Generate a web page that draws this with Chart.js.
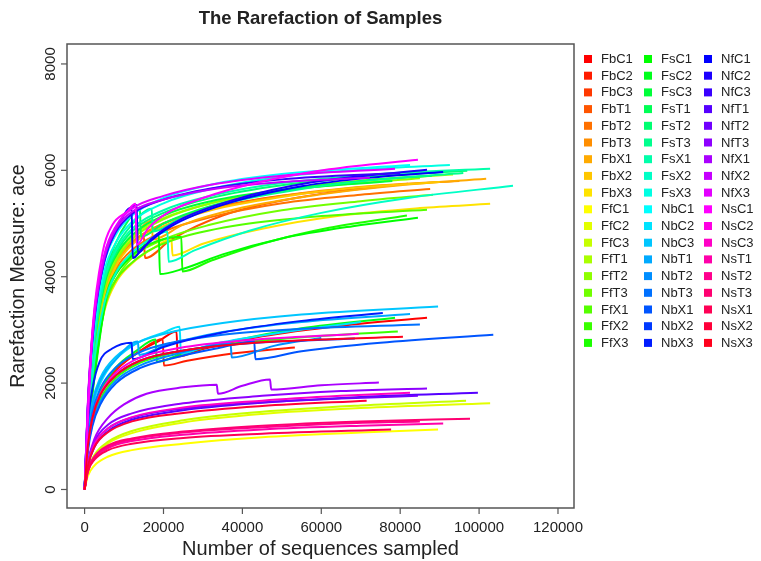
<!DOCTYPE html>
<html>
<head>
<meta charset="utf-8">
<script src="https://cdn.jsdelivr.net/npm/chart.js@4"></script>
<style>html,body{margin:0;background:#fff}</style>
</head>
<body>
<canvas id="c" width="761" height="561"></canvas>
<script>
/* rarefaction curves (ace), one [x, y] list per sample */
const sampleNames = [
  'FbC1','FbC2','FbC3','FbT1','FbT2','FbT3','FbX1','FbX2','FbX3',
  'FfC1','FfC2','FfC3','FfT1','FfT2','FfT3','FfX1','FfX2','FfX3',
  'FsC1','FsC2','FsC3','FsT1','FsT2','FsT3','FsX1','FsX2','FsX3',
  'NbC1','NbC2','NbC3','NbT1','NbT2','NbT3','NbX1','NbX2','NbX3',
  'NfC1','NfC2','NfC3','NfT1','NfT2','NfT3','NfX1','NfX2','NfX3',
  'NsC1','NsC2','NsC3','NsT1','NsT2','NsT3','NsX1','NsX2','NsX3'
];

const curves = [
  /* FbC1 */ [[0,0],[800,850],[2000,1400],[4000,1850],[8000,2250],[14000,2600],[19000,2800],[23300,2970],[23600,2500],[30000,2640],[45000,2880],[65000,3080],[86800,3230]],
  /* FbC2 */ [[0,0],[800,800],[2000,1350],[4000,1800],[8000,2250],[14000,2600],[19800,2830],[20100,2330],[26000,2420],[38000,2560],[53300,2670]],
  /* FbC3 */ [[0,0],[1000,1500],[2500,2700],[5000,3750],[8000,4300],[12000,4650],[20000,5000],[32000,5280],[50000,5520],[75000,5700]],
  /* FbT1 */ [[0,0],[1000,1450],[2500,2650],[5000,3700],[8000,4250],[12000,4620],[15000,4800],[15300,4350],[22000,4700],[35000,5150],[55000,5500],[82000,5750]],
  /* FbT2 */ [[0,0],[1000,1400],[2500,2550],[5000,3600],[8000,4150],[12000,4500],[20000,4850],[32000,5120],[50000,5380],[70000,5540],[87600,5650]],
  /* FbT3 */ [[0,0],[1000,1500],[2500,2700],[5000,3750],[8000,4300],[12000,4650],[20000,5000],[32000,5270],[50000,5520],[72000,5700],[95000,5800]],
  /* FbX1 */ [[0,0],[1000,1450],[2500,2600],[5000,3650],[8000,4250],[12000,4700],[17000,5050],[17300,4700],[25000,4980],[40000,5300],[60000,5550],[80000,5720],[101800,5840]],
  /* FbX2 */ [[0,0],[1000,1400],[2500,2550],[5000,3600],[8000,4200],[12000,4600],[20000,4950],[32000,5250],[50000,5500],[70000,5680],[90000,5780]],
  /* FbX3 */ [[0,0],[1000,1200],[2500,2300],[5000,3350],[8000,3900],[12000,4250],[17000,4520],[22000,4700],[22300,4400],[30000,4620],[45000,4900],[65000,5150],[85000,5290],[102800,5370]],
  /* FfC1 */ [[0,0],[800,250],[2500,450],[6000,620],[12000,740],[25000,860],[45000,980],[70000,1070],[89600,1130]],
  /* FfC2 */ [[0,0],[800,330],[2500,620],[6000,870],[12000,1060],[25000,1260],[45000,1420],[70000,1530],[102800,1620]],
  /* FfC3 */ [[0,0],[800,350],[2500,650],[6000,900],[12000,1100],[25000,1300],[45000,1460],[70000,1580],[96700,1670]],
  /* FfT1 */ [[0,0],[1000,1500],[2500,2700],[5000,3800],[8000,4350],[12000,4750],[20000,5100],[32000,5380],[50000,5640],[72000,5820],[93400,5920]],
  /* FfT2 */ [[0,0],[1000,1450],[2500,2650],[5000,3750],[8000,4300],[12000,4700],[20000,5080],[32000,5380],[50000,5620],[85000,5850]],
  /* FfT3 */ [[0,0],[1000,1250],[2500,2350],[5000,3400],[8000,3950],[12000,4350],[20000,4700],[32000,4980],[50000,5250],[70000,5420],[88300,5540]],
  /* FfX1 */ [[0,0],[1000,1150],[2500,2200],[5500,3550],[8000,3950],[11000,4200],[16000,4480],[25000,4750],[40000,4980],[60000,5140],[86800,5260]],
  /* FfX2 */ [[0,0],[800,800],[2000,1300],[4000,1700],[8000,2100],[14000,2380],[22000,2560],[35000,2720],[55000,2860],[79400,2970]],
  /* FfX3 */ [[0,0],[1000,1100],[2500,2150],[5500,3650],[8000,4100],[11000,4350],[16000,4600],[24500,4750],[24800,4100],[32000,4300],[45000,4620],[62000,4920],[81700,5150]],
  /* FsC1 */ [[0,0],[1000,1100],[2500,2100],[5500,3600],[8000,4050],[11000,4320],[16000,4640],[18800,4800],[19100,4050],[25000,4150],[35000,4420],[50000,4720],[68000,4950],[84500,5110]],
  /* FsC2 */ [[0,0],[800,850],[2000,1400],[4000,1850],[8000,2300],[13000,2600],[18000,2820],[18300,2400],[25000,2560],[38000,2800],[55000,3030],[78700,3230]],
  /* FsC3 */ [[0,0],[1000,1500],[2500,2750],[5000,3850],[8000,4400],[12000,4780],[20000,5150],[32000,5420],[50000,5630],[78000,5800]],
  /* FsT1 */ [[0,0],[1000,1600],[2500,2900],[5000,4000],[8000,4650],[11000,5050],[14000,5300],[14300,4750],[20000,5000],[32000,5330],[50000,5620],[70000,5800],[88000,5900]],
  /* FsT2 */ [[0,0],[1000,1550],[2500,2800],[5000,3900],[8000,4450],[12000,4850],[20000,5200],[32000,5480],[50000,5720],[72000,5880],[97000,5990]],
  /* FsT3 */ [[0,0],[1000,1550],[2500,2800],[5000,3950],[8000,4550],[12000,4980],[17000,5280],[17300,4850],[24000,5080],[36000,5380],[55000,5650],[75000,5830],[96000,5950]],
  /* FsX1 */ [[0,0],[1000,1600],[2500,2850],[5000,3950],[8000,4500],[12000,4900],[20000,5250],[32000,5520],[50000,5760],[75000,5930],[102800,6030]],
  /* FsX2 */ [[0,0],[1000,1300],[2500,2450],[5000,3500],[8000,4080],[12000,4450],[16000,4680],[21000,4850],[21300,4280],[28000,4500],[42000,4870],[60000,5200],[82000,5480],[108600,5710]],
  /* FsX3 */ [[0,0],[1000,1700],[2500,3000],[5000,4100],[8000,4650],[12000,5030],[20000,5380],[32000,5650],[50000,5880],[72000,6020],[92600,6100]],
  /* NbC1 */ [[0,0],[1000,1750],[2500,3100],[5000,4250],[8000,4800],[12000,5150],[20000,5480],[32000,5730],[50000,5930],[82500,6100]],
  /* NbC2 */ [[0,0],[800,950],[2000,1550],[4000,2000],[8000,2450],[14000,2780],[20000,2950],[24100,3060],[24400,2560],[32000,2720],[50000,2950],[70000,3150]],
  /* NbC3 */ [[0,0],[800,1000],[2000,1650],[4000,2100],[8000,2500],[14000,2780],[22000,2960],[35000,3130],[55000,3290],[89600,3440]],
  /* NbT1 */ [[0,0],[800,950],[2000,1600],[4000,2050],[8000,2450],[13500,2780],[13800,2530],[20000,2700],[35000,2960],[55000,3150],[82500,3300]],
  /* NbT2 */ [[0,0],[800,750],[2000,1250],[4000,1650],[8000,2050],[14000,2330],[24000,2560],[37000,2750],[37300,2480],[48000,2700],[60000,2850]],
  /* NbT3 */ [[0,0],[800,850],[2000,1450],[4000,1900],[8000,2300],[14000,2580],[22000,2760],[35000,2910],[55000,3020],[85000,3100]],
  /* NbX1 */ [[0,0],[800,700],[2000,1200],[4000,1600],[8000,2000],[14000,2280],[24000,2500],[34000,2660],[43000,2780],[43300,2450],[55000,2600],[75000,2760],[103600,2910]],
  /* NbX2 */ [[0,0],[800,800],[2000,1350],[4000,1780],[8000,2150],[14000,2420],[24000,2600],[40000,2740],[68500,2840]],
  /* NbX3 */ [[0,0],[800,1200],[2000,1900],[3800,2400],[7000,2650],[11900,2760],[12200,2450],[20000,2680],[35000,2950],[55000,3170],[75600,3320]],
  /* NfC1 */ [[0,0],[1000,1800],[2500,3250],[5000,4300],[8000,4880],[11900,5300],[12200,4350],[15000,4560],[22000,4950],[35000,5350],[55000,5700],[75000,5880],[90900,5970]],
  /* NfC2 */ [[0,0],[1000,1850],[2500,3300],[5000,4350],[8000,4920],[13200,5350],[13500,4450],[17000,4720],[25000,5100],[38000,5450],[58000,5780],[86800,6010]],
  /* NfC3 */ [[0,0],[1000,1800],[2500,3200],[5000,4300],[8000,4850],[12000,5180],[20000,5450],[32000,5660],[50000,5830],[80000,5950]],
  /* NfT1 */ [[0,0],[800,420],[2500,800],[6000,1100],[12000,1310],[25000,1490],[45000,1630],[70000,1740],[99700,1820]],
  /* NfT2 */ [[0,0],[800,450],[2500,850],[6000,1150],[12000,1350],[25000,1520],[45000,1640],[65000,1710],[84500,1760]],
  /* NfT3 */ [[0,0],[800,480],[2500,900],[6000,1220],[12000,1430],[25000,1620],[45000,1760],[65000,1850],[86800,1900]],
  /* NfX1 */ [[0,0],[800,500],[2500,950],[6000,1350],[10000,1600],[15700,1800],[25000,1920],[33500,1970],[33800,1800],[40000,1950],[47000,2070],[47300,1880],[60000,1960],[74600,2010]],
  /* NfX2 */ [[0,0],[1000,1850],[2500,3250],[5000,4350],[8000,4900],[12000,5220],[20000,5450],[32000,5640],[50000,5780],[72300,5860]],
  /* NfX3 */ [[0,0],[1000,1900],[2500,3350],[5000,4420],[8000,4960],[12000,5280],[20000,5520],[32000,5730],[50000,5900],[78700,6030]],
  /* NsC1 */ [[0,0],[1300,2030],[2000,3000],[4600,4470],[7100,4980],[10700,5220],[12900,5370],[13200,4600],[16000,4900],[21000,5200],[30000,5480],[44400,5780],[62000,6020],[84500,6200]],
  /* NsC2 */ [[0,0],[800,800],[2000,1350],[4000,1800],[8000,2200],[14000,2480],[24000,2660],[40000,2800],[69500,2930]],
  /* NsC3 */ [[0,0],[800,450],[2500,850],[6000,1150],[12000,1360],[25000,1540],[45000,1670],[65000,1760],[82500,1820]],
  /* NsT1 */ [[0,0],[800,330],[2500,580],[6000,780],[12000,910],[25000,1030],[45000,1130],[70000,1200],[90900,1240]],
  /* NsT2 */ [[0,0],[800,350],[2500,600],[6000,800],[12000,940],[25000,1070],[45000,1170],[65000,1240],[85000,1280]],
  /* NsT3 */ [[0,0],[800,360],[2500,620],[6000,830],[12000,960],[25000,1090],[45000,1200],[70000,1280],[97700,1330]],
  /* NsX1 */ [[0,0],[800,330],[2500,560],[6000,740],[12000,860],[25000,970],[45000,1050],[77700,1130]],
  /* NsX2 */ [[0,0],[800,430],[2500,800],[6000,1080],[12000,1280],[25000,1440],[45000,1570],[71500,1670]],
  /* NsX3 */ [[0,0],[800,800],[2000,1350],[4000,1780],[8000,2150],[14000,2420],[24000,2600],[40000,2740],[60000,2820],[80700,2870]]
];

const xTicks = [0, 20000, 40000, 60000, 80000, 100000, 120000];
const yTicks = [0, 2000, 4000, 6000, 8000];

const FONT = '"Liberation Sans", Arial, Helvetica, sans-serif';
const colorOf = i => `hsl(${i * 360 / sampleNames.length}, 100%, 50%)`;

/* R-style frame, ticks, titles and 3-column legend */
const rDecor = {
  id: 'rDecor',
  afterDraw(chart) {
    const { ctx, chartArea: a, scales: { x, y } } = chart;
    ctx.save();
    ctx.strokeStyle = '#555';
    ctx.lineWidth = 1.5;
    ctx.strokeRect(a.left, a.top, a.right - a.left, a.bottom - a.top);

    ctx.fillStyle = '#222';
    ctx.font = `15px ${FONT}`;
    ctx.textAlign = 'center';
    ctx.textBaseline = 'middle';
    ctx.lineWidth = 1.2;
    xTicks.forEach(v => {
      const px = x.getPixelForValue(v);
      ctx.beginPath(); ctx.moveTo(px, a.bottom); ctx.lineTo(px, a.bottom + 6); ctx.stroke();
      ctx.fillText(String(v), px, 528);
    });
    yTicks.forEach(v => {
      const py = y.getPixelForValue(v);
      ctx.beginPath(); ctx.moveTo(a.left, py); ctx.lineTo(a.left - 6, py); ctx.stroke();
      ctx.save(); ctx.translate(51, py); ctx.rotate(-Math.PI / 2);
      ctx.fillText(String(v), 0, 0);
      ctx.restore();
    });

    ctx.font = `bold 18.5px ${FONT}`;
    ctx.fillText('The Rarefaction of Samples', (a.left + a.right) / 2, 19);
    ctx.font = `20px ${FONT}`;
    ctx.fillText('Number of sequences sampled', (a.left + a.right) / 2, 549);
    ctx.save(); ctx.translate(19, (a.top + a.bottom) / 2); ctx.rotate(-Math.PI / 2);
    ctx.font = `19.5px ${FONT}`;
    ctx.fillText('Rarefaction Measure: ace', 0, 0);
    ctx.restore();

    ctx.font = `13px ${FONT}`;
    ctx.textAlign = 'left';
    sampleNames.forEach((n, i) => {
      const col = Math.floor(i / 18), row = i % 18;
      const sx = 584 + col * 60, cy = 59 + row * 16.7;
      ctx.fillStyle = colorOf(i);
      ctx.fillRect(sx, cy - 4, 8, 8);
      ctx.fillStyle = '#222';
      ctx.fillText(n, sx + 17, cy + 0.5);
    });
    ctx.restore();
  }
};

new Chart(document.getElementById('c'), {
  type: 'scatter',
  data: {
    datasets: curves.map((pts, i) => ({
      label: sampleNames[i],
      data: pts.map(([px, py]) => ({ x: px, y: py })),
      showLine: true,
      borderColor: colorOf(i),
      backgroundColor: colorOf(i),
      borderWidth: 2,
      pointRadius: 0,
      cubicInterpolationMode: 'monotone',
      order: -i
    }))
  },
  options: {
    responsive: false,
    animation: false,
    devicePixelRatio: 1,
    layout: { padding: { left: 67, right: 187, top: 44, bottom: 53 } },
    plugins: { legend: { display: false }, tooltip: { enabled: false } },
    scales: {
      x: {
        type: 'linear', min: -4460, max: 124060,
        ticks: { display: false }, grid: { display: false, drawTicks: false },
        border: { display: false }, afterFit: s => { s.height = 0; }
      },
      y: {
        type: 'linear', min: -348, max: 8375,
        ticks: { display: false }, grid: { display: false, drawTicks: false },
        border: { display: false }, afterFit: s => { s.width = 0; }
      }
    }
  },
  plugins: [rDecor]
});
</script>
</body>
</html>
